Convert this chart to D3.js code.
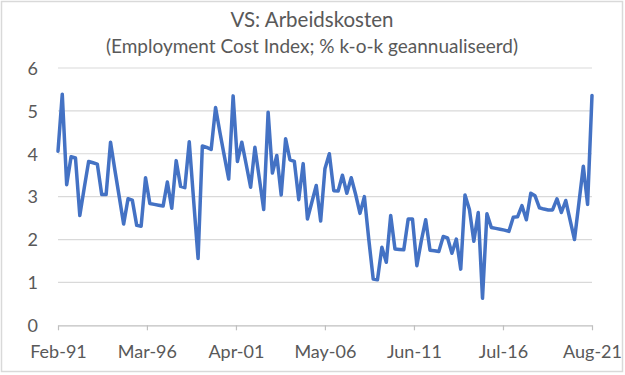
<!DOCTYPE html>
<html>
<head>
<meta charset="utf-8">
<script src="https://cdn.jsdelivr.net/npm/d3@7"></script>
<style>
  html, body { margin: 0; padding: 0; background: #ffffff; }
  svg { display: block; }
  text { font-family: Lato, "Open Sans", sans-serif; fill: #595959; }
</style>
</head>
<body>
<div id="chart"></div>
<script>
// ---- Data ----
const titleText = "VS: Arbeidskosten";
const subtitleText = "(Employment Cost Index; % k-o-k geannualiseerd)";
const firstPeriod = "Feb-91";      // first quarterly observation
const monthsPerStep = 3;           // quarterly data
const eciValues = [
  4.06, 5.39, 3.28, 3.93, 3.90, 2.56, 3.20, 3.82, 3.79, 3.76,
  3.05, 3.05, 4.27, 3.63, 3.00, 2.36, 2.95, 2.92, 2.33, 2.31,
  3.44, 2.84, 2.82, 2.80, 2.78, 3.34, 2.73, 3.84, 3.24, 3.21,
  4.28, 2.90, 1.56, 4.18, 4.15, 4.10, 5.08, 4.50, 3.95, 3.41,
  5.35, 3.82, 4.27, 3.75, 3.22, 4.15, 3.43, 2.70, 4.97, 3.55,
  3.96, 3.04, 4.35, 3.86, 3.82, 2.93, 3.77, 2.48, 2.87, 3.26,
  2.43, 3.65, 4.00, 3.14, 3.13, 3.50, 3.08, 3.44, 3.05, 2.61,
  3.00, 2.00, 1.08, 1.06, 1.82, 1.47, 2.56, 1.78, 1.77, 1.76,
  2.48, 2.48, 1.39, 1.97, 2.46, 1.75, 1.74, 1.72, 2.07, 2.04,
  1.68, 2.01, 1.31, 3.04, 2.70, 1.96, 2.63, 0.63, 2.60, 2.28,
  2.26, 2.24, 2.22, 2.19, 2.52, 2.53, 2.79, 2.46, 3.08, 3.02,
  2.74, 2.71, 2.69, 2.69, 2.95, 2.63, 2.91, 2.45, 2.00, 2.85,
  3.71, 2.82, 5.36
];
const xTickLabels = ["Feb-91", "Mar-96", "Apr-01", "May-06", "Jun-11", "Jul-16", "Aug-21"];
const yTicks = [0, 1, 2, 3, 4, 5, 6];

// ---- Layout ----
const W = 625, H = 375;
const plot = { left: 58, right: 592, top: 68, bottom: 325.3 };

const parse = d3.timeParse("%b-%y");
const start = parse(firstPeriod);
const dates = eciValues.map((v, i) => d3.timeMonth.offset(start, i * monthsPerStep));
const data = eciValues.map((v, i) => ({ date: dates[i], value: v }));
const tickDates = xTickLabels.map(parse);

const x = d3.scaleTime()
  .domain([start, dates[dates.length - 1]])
  .range([plot.left, plot.right]);
const y = d3.scaleLinear()
  .domain([0, 6])
  .range([plot.bottom, plot.top]);

const svg = d3.select("#chart").append("svg")
  .attr("width", W).attr("height", H);

// outer border
svg.append("rect")
  .attr("x", 1.5).attr("y", 1.5)
  .attr("width", 621).attr("height", 370)
  .attr("fill", "#ffffff")
  .attr("stroke", "#d9d9d9").attr("stroke-width", 1.5);

// title
svg.append("text")
  .attr("x", 312).attr("y", 27)
  .attr("text-anchor", "middle")
  .style("font-size", "20.5px")
  .text(titleText);
svg.append("text")
  .attr("x", 312).attr("y", 53)
  .attr("text-anchor", "middle")
  .style("font-size", "19px")
  .text(subtitleText);

// gridlines
svg.append("g")
  .selectAll("line")
  .data(yTicks.filter(d => d > 0))
  .join("line")
  .attr("x1", plot.left).attr("x2", plot.right)
  .attr("y1", d => y(d)).attr("y2", d => y(d))
  .attr("stroke", "#d9d9d9").attr("stroke-width", 1.2);

// y axis labels
const yAxis = d3.axisLeft(y).tickValues(yTicks).tickSize(0).tickPadding(0).tickFormat(d3.format("d"));
const gy = svg.append("g")
  .attr("transform", `translate(${38},0)`)
  .call(yAxis);
gy.select(".domain").remove();
gy.selectAll("text")
  .style("font-size", "18px")
  .style("font-family", "Lato, 'Open Sans', sans-serif")
  .attr("fill", "#595959")
  .attr("dy", "0.35em");

// x axis
const xAxis = d3.axisBottom(x)
  .tickValues(tickDates)
  .tickFormat((d, i) => xTickLabels[i])
  .tickSize(5)
  .tickSizeOuter(0)
  .tickPadding(15);
const gx = svg.append("g")
  .attr("transform", `translate(0,${plot.bottom})`)
  .call(xAxis);
gx.select(".domain").attr("stroke", "#bfbfbf").attr("stroke-width", 1.2);
gx.selectAll(".tick line").attr("stroke", "#bfbfbf").attr("stroke-width", 1.2);
gx.selectAll("text")
  .style("font-size", "18px")
  .style("font-family", "Lato, 'Open Sans', sans-serif")
  .attr("fill", "#595959");

// line
const line = d3.line()
  .x(d => x(d.date))
  .y(d => y(d.value));
svg.append("path")
  .datum(data)
  .attr("d", line)
  .attr("fill", "none")
  .attr("stroke", "#4472C4")
  .attr("stroke-width", 3.5)
  .attr("stroke-linejoin", "round")
  .attr("stroke-linecap", "round");
</script>
</body>
</html>
